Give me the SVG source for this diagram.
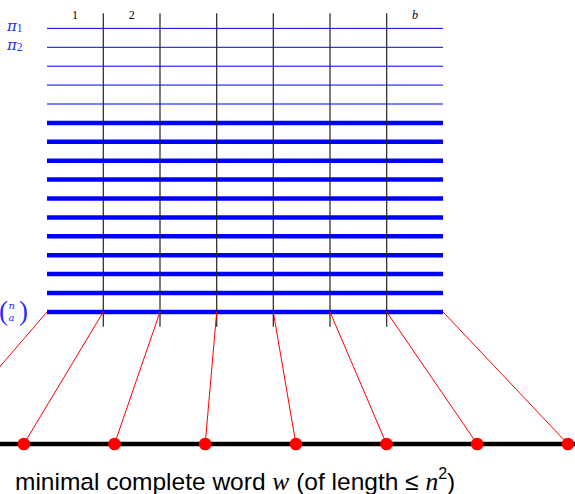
<svg xmlns="http://www.w3.org/2000/svg" width="575" height="494" viewBox="0 0 575 494">
<style>
.thin{stroke:#0000ff;stroke-width:1}
.thick{stroke:#0000ff;stroke-width:4.5}
.col{stroke:#222;stroke-width:1.2}
.red{stroke:#ff0000;stroke-width:1}
.dot{fill:#ff0000}
.lbl{font-family:"Liberation Serif",serif;font-size:12px;fill:#000}
.pi{font-family:"DejaVu Serif",serif;font-style:italic;fill:#2a2aff}
.cap{font-family:"Liberation Sans",sans-serif;font-size:24.5px;fill:#000}
.m{font-family:"Liberation Serif",serif;font-style:italic}
</style>
<rect width="575" height="494" fill="#fff"/>
<g id="rows">
<line class="thin" x1="47" y1="28.4" x2="443" y2="28.4"/>
<line class="thin" x1="47" y1="47.3" x2="443" y2="47.3"/>
<line class="thin" x1="47" y1="66.2" x2="443" y2="66.2"/>
<line class="thin" x1="47" y1="85.1" x2="443" y2="85.1"/>
<line class="thin" x1="47" y1="104" x2="443" y2="104"/>
<line class="thick" x1="47" y1="122.9" x2="443" y2="122.9"/>
<line class="thick" x1="47" y1="141.8" x2="443" y2="141.8"/>
<line class="thick" x1="47" y1="160.7" x2="443" y2="160.7"/>
<line class="thick" x1="47" y1="179.6" x2="443" y2="179.6"/>
<line class="thick" x1="47" y1="198.5" x2="443" y2="198.5"/>
<line class="thick" x1="47" y1="217.4" x2="443" y2="217.4"/>
<line class="thick" x1="47" y1="236.3" x2="443" y2="236.3"/>
<line class="thick" x1="47" y1="255.2" x2="443" y2="255.2"/>
<line class="thick" x1="47" y1="274.1" x2="443" y2="274.1"/>
<line class="thick" x1="47" y1="293" x2="443" y2="293"/>
<line class="thick" x1="47" y1="311.9" x2="443" y2="311.9"/>
</g>
<g id="columns">
<line class="col" x1="103.3" y1="13.3" x2="103.3" y2="326.7"/>
<line class="col" x1="160" y1="13.3" x2="160" y2="326.7"/>
<line class="col" x1="216.7" y1="13.3" x2="216.7" y2="326.7"/>
<line class="col" x1="273.3" y1="13.3" x2="273.3" y2="326.7"/>
<line class="col" x1="330" y1="13.3" x2="330" y2="326.7"/>
<line class="col" x1="386.7" y1="13.3" x2="386.7" y2="326.7"/>
</g>
<g id="labels">
<text class="lbl" x="75" y="18.5" text-anchor="middle">1</text>
<text class="lbl" x="131.7" y="18.5" text-anchor="middle">2</text>
<text class="lbl" x="415" y="18.5" text-anchor="middle" font-style="italic">b</text>
<text class="pi" x="7" y="30.5" font-size="15">π<tspan font-family="Liberation Serif" font-style="normal" font-size="11.5" dy="1.5">1</tspan></text>
<text class="pi" x="7" y="49.5" font-size="15">π<tspan font-family="Liberation Serif" font-style="normal" font-size="11.5" dy="1.5">2</tspan></text>
<text id="binom" class="pi"><tspan font-family="Liberation Serif" font-style="normal" x="-1" y="320" font-size="27">(</tspan><tspan x="8.5" y="309" font-size="10">n</tspan><tspan x="8.5" y="321" font-size="10">a</tspan><tspan font-family="Liberation Serif" font-style="normal" x="19" y="320" font-size="27">)</tspan></text>
</g>
<g id="connectors">
<line class="red" x1="47" y1="311.9" x2="-66.8" y2="444"/>
<line class="red" x1="103.3" y1="311.9" x2="23.8" y2="444"/>
<line class="red" x1="160" y1="311.9" x2="114.5" y2="444"/>
<line class="red" x1="216.7" y1="311.9" x2="205.2" y2="444"/>
<line class="red" x1="273.3" y1="311.9" x2="295.9" y2="444"/>
<line class="red" x1="330" y1="311.9" x2="386.5" y2="444"/>
<line class="red" x1="386.7" y1="311.9" x2="477.2" y2="444"/>
<line class="red" x1="443" y1="311.9" x2="567.9" y2="444"/>
</g>
<g id="word">
<line x1="0" y1="444" x2="575" y2="444" stroke="#000" stroke-width="4.5"/>
<circle class="dot" cx="23.8" cy="444" r="6.3"/>
<circle class="dot" cx="114.5" cy="444" r="6.3"/>
<circle class="dot" cx="205.2" cy="444" r="6.3"/>
<circle class="dot" cx="295.9" cy="444" r="6.3"/>
<circle class="dot" cx="386.5" cy="444" r="6.3"/>
<circle class="dot" cx="477.2" cy="444" r="6.3"/>
<circle class="dot" cx="567.9" cy="444" r="6.3"/>
</g>
<text class="cap" x="15" y="489.5">minimal complete word <tspan class="m" font-size="25.5">w</tspan> (of length ≤ <tspan class="m" font-size="25.5">n</tspan><tspan font-size="16" dy="-11">2</tspan><tspan dy="11">)</tspan></text>
</svg>
